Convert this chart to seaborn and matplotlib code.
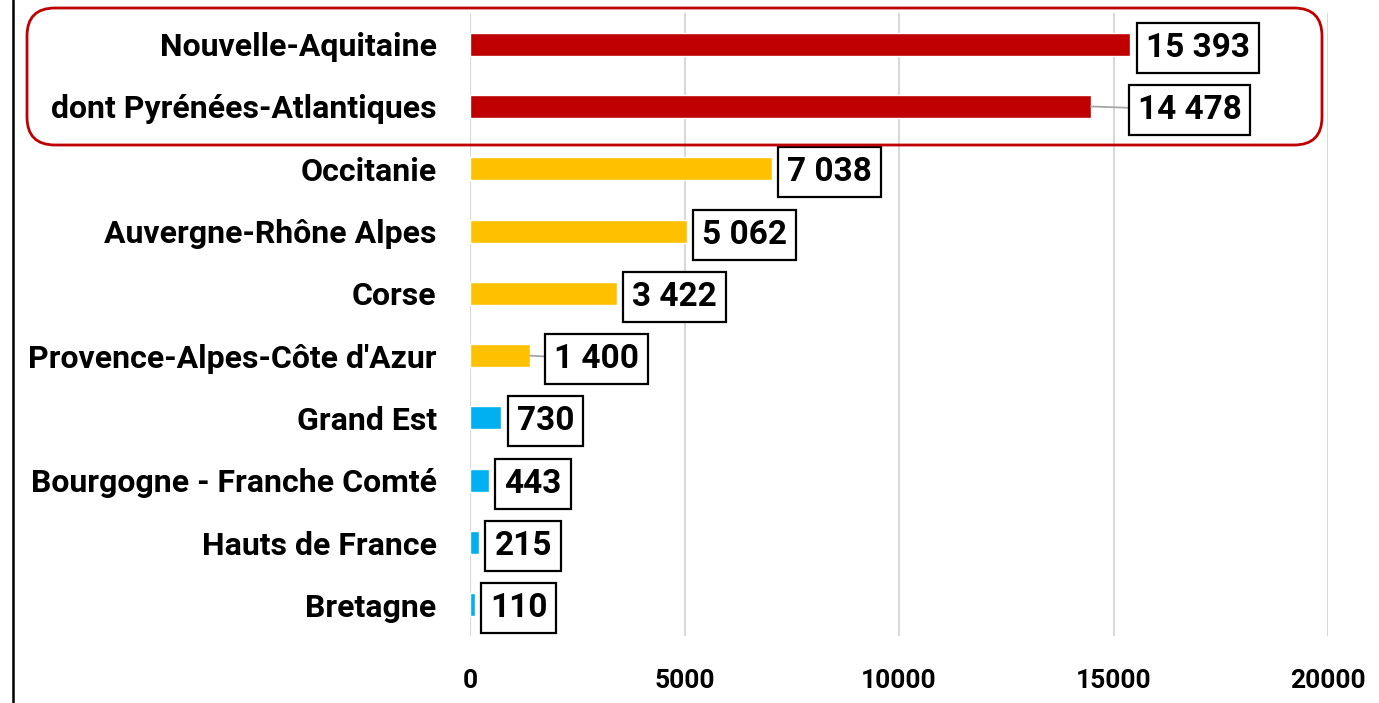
import matplotlib
matplotlib.use("Agg")
import matplotlib.pyplot as plt
from matplotlib.patches import FancyBboxPatch
from matplotlib.lines import Line2D
import seaborn as sns
import pandas as pd
from matplotlib import font_manager

regions = ["Nouvelle-Aquitaine", "dont Pyrénées-Atlantiques", "Occitanie",
           "Auvergne-Rhône Alpes", "Corse", "Provence-Alpes-Côte d'Azur",
           "Grand Est", "Bourgogne - Franche Comté", "Hauts de France", "Bretagne"]
values = [15393, 14478, 7038, 5062, 3422, 1400, 730, 443, 215, 110]
value_labels = ["15 393", "14 478", "7 038", "5 062", "3 422", "1 400",
                "730", "443", "215", "110"]
bar_colors = ["#C00000", "#C00000", "#FFC000", "#FFC000", "#FFC000", "#FFC000",
              "#00B0F0", "#00B0F0", "#00B0F0", "#00B0F0"]
xticks = [0, 5000, 10000, 15000, 20000]

names = {f.name for f in font_manager.fontManager.ttflist}
fam = "Liberation Sans Narrow" if "Liberation Sans Narrow" in names else "Roboto"
FONT = [fam, "DejaVu Sans"]

sns.set_theme(style="white")
plt.rcParams["font.family"] = FONT
plt.rcParams["text.color"] = "black"
plt.rcParams["xtick.color"] = "black"
plt.rcParams["ytick.color"] = "black"

fig = plt.figure(figsize=(13.79, 7.03), dpi=100)
ax = fig.add_axes([470/1379, 1-636/703, (1328-470)/1379, (636-13)/703])

df = pd.DataFrame({"region": regions, "value": values})
sns.barplot(data=df, x="value", y="region", hue="region", palette=bar_colors,
            legend=False, width=0.37, ax=ax, saturation=1, orient="h")

ax.set_xlim(0, 20000)
ax.set_xticks(xticks)
ax.set_xticklabels([str(t) for t in xticks], fontsize=19, fontweight="bold",
                   color="black")
ax.tick_params(axis="x", length=0, pad=24)
ax.tick_params(axis="y", length=0, pad=24)
for lab in ax.get_yticklabels():
    lab.set_fontsize(23)
    lab.set_fontweight("bold")
    lab.set_color("black")
ax.set_xlabel("")
ax.set_ylabel("")
for s in ax.spines.values():
    s.set_visible(False)
ax.grid(axis="x", color="#D9D9D9", linewidth=1.5)
ax.set_axisbelow(True)

FS = 24
PAD = 0.27
padpt = FS * PAD
offsets = {1: 27 + padpt, 5: 11 + padpt}
for i, (v, t) in enumerate(zip(values, value_labels)):
    off = offsets.get(i, 4.5 + padpt)
    kw = {}
    if i in offsets:
        kw["arrowprops"] = dict(arrowstyle="-", color="#A6A6A6", lw=1.3,
                                shrinkA=0, shrinkB=0)
    ax.annotate(t, xy=(v, i), xytext=(off, 0), textcoords="offset points",
                ha="left", va="center_baseline", fontsize=FS, fontweight="bold",
                color="black",
                bbox=dict(boxstyle=f"square,pad={PAD}", fc="white", ec="black", lw=1.6),
                **kw)

# highlight rounded box
fig.add_artist(FancyBboxPatch((0.27 + 0.28, (703-145)/100 + 0.28),
                              13.22 - 0.27 - 0.56, (145-8)/100 - 0.56,
                              boxstyle="round,pad=0.28",
                              transform=fig.dpi_scale_trans,
                              fc="none", ec="#C00000", lw=2))
# left border line
fig.add_artist(Line2D([12.5/1379, 12.5/1379], [0, 1], color="black", lw=1.8,
                      transform=fig.transFigure))

fig.savefig("out.png", dpi=100, facecolor="white")
